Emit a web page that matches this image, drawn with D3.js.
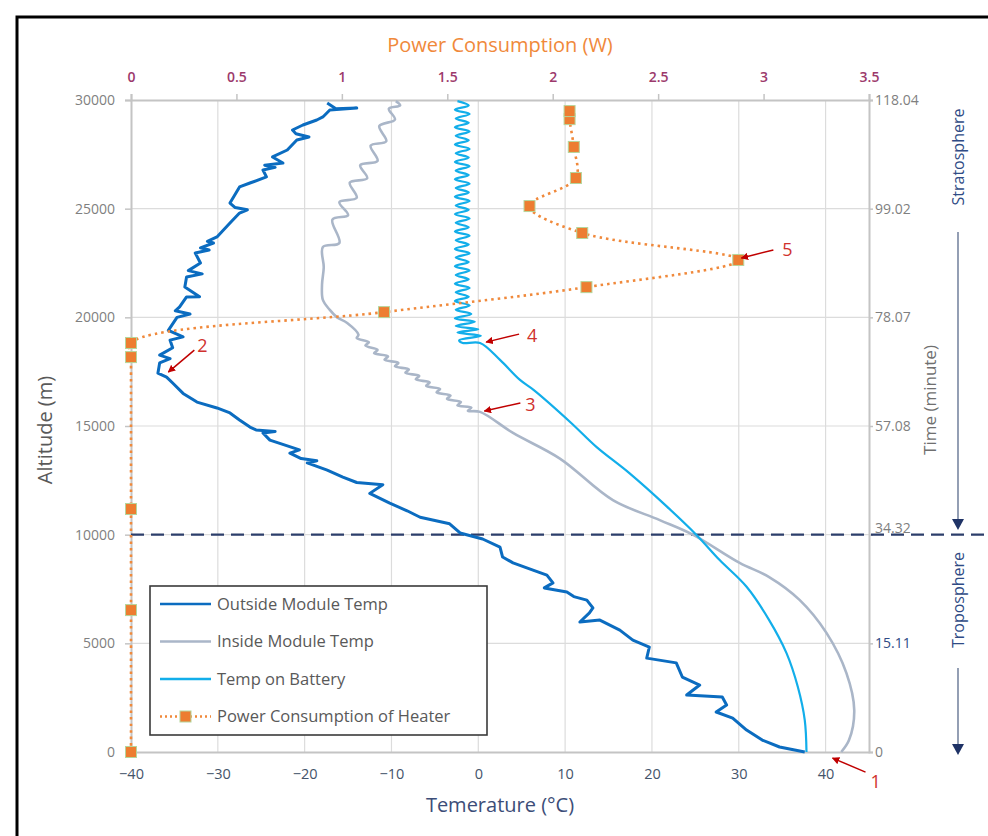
<!DOCTYPE html>
<html>
<head>
<meta charset="utf-8">
<script src="https://cdn.jsdelivr.net/npm/d3@7"></script>
<style>
  body { margin: 0; background: #fff; }
  text { font-family: "Open Sans", "Noto Sans", sans-serif; }
</style>
</head>
<body>
<div id="chart"></div>
<script>
// ---- data: [temperature °C, altitude m] ----
const outsideTemp = [
  [37.6,0],[34.7,230],[32.7,550],[30.9,1010],[29.3,1560],[27.4,1840],[28.6,2160],[28.1,2530],
  [24.0,2620],[25.5,3080],[23.5,3450],[22.8,4100],[19.4,4320],[19.7,4830],[17.8,5150],[16.3,5610],
  [14.0,6070],[11.7,5980],[12.8,6400],[13.2,6630],[12.5,6990],[11.0,7150],[10.2,7360],[7.6,7550],[8.6,7780],
  [7.9,8140],[6.3,8370],[4.0,8700],[2.8,8970],[2.5,9430],[0.5,9800],[-2.1,10080],[-3.3,10500],
  [-6.7,10800],[-8.2,11100],[-10.2,11450],[-12.5,11900],[-11.0,12300],[-14.0,12400],[-15.6,12650],
  [-17.4,12970],[-19.7,13300],[-18.6,13400],[-20.4,13500],[-21.7,13750],[-20.6,13900],[-24.0,14350],
  [-24.8,14680],[-23.4,14750],[-25.6,14820],[-26.3,14950],
  [-27.5,15280],[-28.6,15600],[-30.1,15830],[-32.4,16100],[-34.0,16500],[-35.2,16980],[-35.9,17250],
  [-36.9,17430],[-36.7,17900],[-35.5,18100],[-36.7,18260],[-35.2,18600],[-35.5,18950],[-34.0,19100],
  [-35.7,19400],[-34.7,20000],[-33.2,20150],[-34.9,20300],[-34.4,20480],[-33.6,20940],[-32.1,20950],
  [-33.8,21400],[-33.6,21860],[-31.8,22000],[-33.4,22150],
  [-32.0,22500],[-32.6,22960],[-31.0,23100],[-32.0,23200],[-30.5,23420],[-31.2,23500],[-30.1,23700],
  [-28.6,24340],[-27.5,24800],[-26.6,24950],[-28.0,25050],
  [-28.6,25260],[-27.5,26000],[-26.3,26180],[-24.4,26460],[-24.8,26780],[-23.4,26900],[-24.6,27000],
  [-22.5,27100],[-23.7,27380],
  [-22.0,27700],[-20.9,28160],[-19.5,28300],[-21.0,28450],[-21.4,28620],[-20.2,28850],[-18.6,29080],
  [-17.9,29220],[-17.1,29540],[-14.0,29630],[-16.4,29600],[-17.4,29860]
];
const insideTemp = [
  [41.8,0],[42.7,550],[43.3,1930],[42.4,3630],[40.1,5480],[37.0,7000],[33.5,8050],[30.1,8700],
  [24.7,10000],[20.9,10670],[15.5,11590],[9.4,13500],[4.0,14680],
  [0.2,15650],[-1.2,15700],[-0.8,15850],[-2.4,15950],[-2.0,16100],[-3.6,16250],[-3.2,16400],
  [-4.8,16550],[-4.4,16700],[-6.0,16850],[-5.6,17000],[-7.2,17150],[-6.8,17300],[-8.4,17450],
  [-8.0,17600],[-9.6,17750],[-9.2,17900],[-10.8,18050],[-10.4,18200],[-12.0,18350],[-11.6,18500],
  [-13.0,18700],[-12.6,18850],[-14.0,19050],[-13.8,19200],[-15.1,19740],[-16.3,20010],[-17.1,20340],
  [-17.9,20800],[-18.0,21500],[-17.8,22300],[-17.9,23240],[-16.0,23420],[-16.8,24500],[-15.0,24700],
  [-16.0,25300],[-14.0,25500],[-14.8,26200],[-12.8,26400],[-13.6,27000],[-11.6,27200],[-12.4,27900],
  [-10.6,28100],[-11.4,28800],[-9.6,29100],[-10.3,29600],[-9.0,29750],[-9.5,29950]
];
const batteryTemp = [
  [37.8,0],[37.6,1470],[36.8,3000],[35.5,4550],[33.5,6070],[30.9,7600],[27.8,8830],[25.1,10000],
  [21.7,11300],[17.4,12830],[13.6,14040],[10.7,15140],[6.4,16650],[4.8,17120],[2.5,18040],[0.2,18820],
  [-1.8,18820],[-2.2,18950],[0.3,19150],[-2.4,19300],[0.0,19450],[-2.6,19600],[-0.4,19800],[-2.7,19950],
  [-0.8,20150],[-2.6,20350],[-1.0,20550],[-2.7,20750],[-1.1,20950],[-2.6,21150],[-1.0,21350],[-2.7,21550],
  [-1.1,21750],[-2.6,21950],[-1.0,22150],[-2.7,22350],[-1.1,22550],[-2.6,22750],[-1.0,22950],[-2.7,23150],
  [-1.1,23350],[-2.6,23550],[-1.0,23750],[-2.7,23950],[-1.1,24150],[-2.6,24350],[-1.0,24550],[-2.7,24750],
  [-1.1,24950],[-2.6,25150],[-1.0,25350],[-2.7,25550],[-1.1,25750],[-2.6,25950],[-1.0,26150],[-2.7,26350],
  [-1.1,26550],[-2.6,26750],[-1.0,26950],[-2.7,27150],[-1.1,27350],[-2.6,27550],[-1.0,27750],[-2.7,27950],
  [-1.1,28150],[-2.6,28350],[-1.0,28550],[-2.7,28750],[-1.1,28950],[-2.6,29150],[-1.0,29350],[-2.7,29550],
  [-1.1,29750],[-2.4,29950]
];
// [power W, altitude m]
const heaterPower = [
  [0,0],[0,6530],[0,11180],[0,18170],[0,18820],[1.20,20240],[2.16,21390],[2.88,22640],
  [2.14,23880],[1.89,25120],[2.11,26410],[2.10,27840],[2.08,29120],[2.08,29490]
];

const tempTicks = [-40,-30,-20,-10,0,10,20,30,40];
const powerTicks = [0,0.5,1,1.5,2,2.5,3,3.5];
const altTicks = [0,5000,10000,15000,20000,25000,30000];
const timeLabels = ["0","15.11","34.32","57.08","78.07","99.02","118.04"];
const tropopause = 10000;

const legendNames = ["Outside Module Temp","Inside Module Temp","Temp on Battery","Power Consumption of Heater"];
// callouts: label, tip [temperature, altitude]
const callouts = [
  ["1", 40.8, -280], ["2", -35.7, 17480], ["3", 0.7, 15690], ["4", 0.9, 18860], ["5", 30.3, 22730]
];

// ---- layout ----
const width = 988, height = 836;
const svg = d3.select("#chart").append("svg").attr("width", width).attr("height", height);

const x = d3.scaleLinear().domain([-40, 45]).range([131, 869]);
const xp = d3.scaleLinear().domain([0, 3.5]).range([131, 869]);
const y = d3.scaleLinear().domain([0, 30000]).range([752, 100]);

svg.append("rect").attr("x", 17).attr("y", 17).attr("width", 990).attr("height", 840)
  .attr("fill", "none").attr("stroke", "#000").attr("stroke-width", 3);

// grid
svg.append("g").selectAll("line").data(tempTicks.slice(1)).join("line")
  .attr("x1", d => x(d)).attr("x2", d => x(d)).attr("y1", y(30000)).attr("y2", y(0))
  .attr("stroke", "#dcdcdc").attr("stroke-width", 1.2);
svg.append("g").selectAll("line").data(altTicks.slice(1, -1)).join("line")
  .attr("x1", x(-40)).attr("x2", x(45)).attr("y1", d => y(d)).attr("y2", d => y(d))
  .attr("stroke", "#dcdcdc").attr("stroke-width", 1.2);

// axes
const axisLeft = svg.append("g").attr("transform", `translate(${x(-40)},0)`)
  .call(d3.axisLeft(y).tickValues(altTicks).tickSize(6).tickPadding(10).tickFormat(d3.format("d")));
const axisRight = svg.append("g").attr("transform", `translate(${x(45)},0)`)
  .call(d3.axisRight(y).tickValues(altTicks).tickSize(4).tickPadding(2)
    .tickFormat((d, i) => timeLabels[i]));
const axisBottom = svg.append("g").attr("transform", `translate(0,${y(0)})`)
  .call(d3.axisBottom(x).tickValues(tempTicks).tickSize(0).tickPadding(17));
const axisTop = svg.append("g").attr("transform", `translate(0,${y(30000)})`)
  .call(d3.axisTop(xp).tickValues(powerTicks).tickSize(6).tickPadding(12).tickFormat(d => d));

[axisLeft, axisRight, axisBottom, axisTop].forEach(a => {
  a.select(".domain").attr("stroke", "#c4c4c4").attr("stroke-width", 2);
  a.selectAll(".tick line").attr("stroke", "#c4c4c4").attr("stroke-width", 1.5);
  a.selectAll("text").attr("font-size", 14);
});
axisLeft.selectAll("text").attr("fill", "#7f7f7f");
axisRight.selectAll("text").attr("fill", (d, i) => timeLabels[i] === "15.11" ? "#2f4b85" : "#7f7f7f")
  .attr("dy", (d, i) => timeLabels[i] === "34.32" ? "-0.15em" : "0.32em");
axisBottom.selectAll("text").attr("fill", "#44546a").attr("font-size", 14.5);
axisTop.selectAll("text").attr("fill", "#9c3a6c").attr("font-weight", 600);

// tropopause dashed line
svg.append("line").attr("x1", x(-40)).attr("x2", 985)
  .attr("y1", y(tropopause)).attr("y2", y(tropopause))
  .attr("stroke", "#2c3e6b").attr("stroke-width", 2.2).attr("stroke-dasharray", "13,7");

// series
const tLine = d3.line().x(d => x(d[0])).y(d => y(d[1]));
const tSmooth = d3.line().x(d => x(d[0])).y(d => y(d[1])).curve(d3.curveCatmullRom.alpha(0.5));
svg.append("path").datum(insideTemp).attr("d", tSmooth)
  .attr("fill", "none").attr("stroke", "#aab6c8").attr("stroke-width", 2.6).attr("stroke-linejoin", "round");
svg.append("path").datum(batteryTemp).attr("d", tSmooth)
  .attr("fill", "none").attr("stroke", "#12aeea").attr("stroke-width", 2.2).attr("stroke-linejoin", "round");
svg.append("path").datum(outsideTemp).attr("d", tLine)
  .attr("fill", "none").attr("stroke", "#0b6cc0").attr("stroke-width", 3).attr("stroke-linejoin", "round");

const pLine = d3.line().x(d => xp(d[0])).y(d => y(d[1])).curve(d3.curveCatmullRom.alpha(0.5));
svg.append("path").datum(heaterPower).attr("d", pLine)
  .attr("fill", "none").attr("stroke", "#f0893b").attr("stroke-width", 2.6)
  .attr("stroke-dasharray", "2.5,4");
svg.append("g").selectAll("rect").data(heaterPower).join("rect")
  .attr("x", d => xp(d[0]) - 5.5).attr("y", d => y(d[1]) - 5.5)
  .attr("width", 11).attr("height", 11)
  .attr("fill", "#ed7d31").attr("stroke", "#b5d69c").attr("stroke-width", 1);

// callouts
svg.append("defs").append("marker").attr("id", "head").attr("viewBox", "0 0 10 10")
  .attr("refX", 9).attr("refY", 5).attr("markerWidth", 5).attr("markerHeight", 5)
  .attr("orient", "auto").append("path").attr("d", "M0,0L10,5L0,10z").attr("fill", "#c00000");
const tails = { "1": [33, 14], "2": [26, -22], "3": [36, -8], "4": [33, -8], "5": [32, -8] };
const labelOff = { "1": [43, 24], "2": [34, -26], "3": [46, -6], "4": [46, -6], "5": [46, -8] };
callouts.forEach(([lab, t, a]) => {
  const tx = x(t), ty = y(a);
  svg.append("line").attr("x1", tx + tails[lab][0]).attr("y1", ty + tails[lab][1])
    .attr("x2", tx).attr("y2", ty).attr("stroke", "#c00000").attr("stroke-width", 1.5)
    .attr("marker-end", "url(#head)");
  svg.append("text").attr("x", tx + labelOff[lab][0]).attr("y", ty + labelOff[lab][1])
    .attr("text-anchor", "middle").attr("dy", "0.35em").attr("font-size", 18)
    .attr("fill", "#d0312d").text(lab);
});

// titles
svg.append("text").attr("x", 500).attr("y", 45).attr("text-anchor", "middle").attr("dy", "0.35em")
  .attr("font-size", 20).attr("fill", "#f0893b").text("Power Consumption (W)");
svg.append("text").attr("x", 500).attr("y", 805).attr("text-anchor", "middle").attr("dy", "0.35em")
  .attr("font-size", 20).attr("fill", "#3c4d78").text("Temerature (°C)");
svg.append("text").attr("transform", "translate(45,430) rotate(-90)").attr("text-anchor", "middle")
  .attr("dy", "0.35em").attr("font-size", 20).attr("fill", "#595959").text("Altitude (m)");
svg.append("text").attr("transform", "translate(930,400) rotate(-90)").attr("text-anchor", "middle")
  .attr("dy", "0.35em").attr("font-size", 17).attr("fill", "#6f6f6f").text("Time (minute)");

// atmosphere layers
const layerColor = "#2f4b85";
[["Stratosphere", 157, 232, 530], ["Troposphere", 600, 668, 755]].forEach(([name, cy, a0, a1]) => {
  svg.append("text").attr("transform", `translate(958,${cy}) rotate(-90)`).attr("text-anchor", "middle")
    .attr("dy", "0.35em").attr("font-size", 16).attr("fill", layerColor).text(name);
  svg.append("line").attr("x1", 958).attr("x2", 958).attr("y1", a0).attr("y2", a1 - 10)
    .attr("stroke", "#5a6b8c").attr("stroke-width", 1.3);
  svg.append("path").attr("d", `M952,${a1 - 11}L964,${a1 - 11}L958,${a1}z`).attr("fill", "#1f3366");
});

// legend
const lg = svg.append("g");
lg.append("rect").attr("x", 150).attr("y", 586).attr("width", 337).attr("height", 149)
  .attr("fill", "#fff").attr("stroke", "#3a3a3a").attr("stroke-width", 1.6);
const legendStyle = [
  { c: "#0b6cc0", w: 2.6 }, { c: "#aab6c8", w: 2.6 }, { c: "#12aeea", w: 2.6 }, { c: "#f0893b", w: 2.4, dash: "2,3" }
];
legendNames.forEach((name, i) => {
  const ly = 604 + i * 37.5;
  lg.append("line").attr("x1", 160).attr("x2", 211).attr("y1", ly).attr("y2", ly)
    .attr("stroke", legendStyle[i].c).attr("stroke-width", legendStyle[i].w)
    .attr("stroke-dasharray", legendStyle[i].dash || null);
  if (i === 3) {
    lg.append("rect").attr("x", 180).attr("y", ly - 5.5).attr("width", 11).attr("height", 11)
      .attr("fill", "#ed7d31").attr("stroke", "#b5d69c");
  }
  lg.append("text").attr("x", 217).attr("y", ly).attr("dy", "0.35em").attr("font-size", 16.5)
    .attr("fill", "#595959").text(name);
});
</script>
</body>
</html>
